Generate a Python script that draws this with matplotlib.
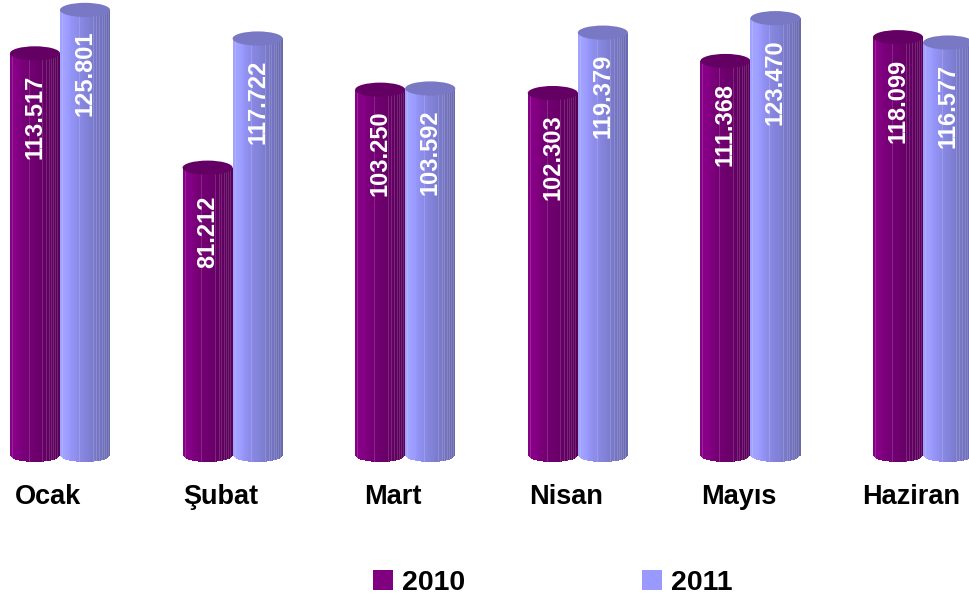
import numpy as np
import matplotlib
matplotlib.use("Agg")
import matplotlib.pyplot as plt
import matplotlib.transforms as mtransforms
from matplotlib.patches import Ellipse, Patch
from matplotlib.colors import to_rgb

plt.rcParams['font.family'] = ['Liberation Sans', 'DejaVu Sans']

# data
months = ['Ocak', 'Şubat', 'Mart', 'Nisan', 'Mayıs', 'Haziran']
v2010 = [113.517, 81.212, 103.250, 102.303, 111.368, 118.099]
v2011 = [125.801, 117.722, 103.592, 119.379, 123.470, 116.577]
series = ['2010', '2011']

c2010, top2010 = '#800080', '#640064'
c2011, top2011 = '#9999FF', '#7878c4'

fig = plt.figure(figsize=(9.7, 6.03), dpi=100)
ax = fig.add_axes([0, 133 / 603, 1, 470 / 603])
ax.set_xlim(-0.3476, 5.272)
ax.set_ylim(-4.24, 128.6)
ax.axis('off')

W = 0.29      # bar width, group units
B = 2.0       # half height of the end ellipses, value units


def cylinder(xc, h, base, top, z):
    n = 48
    a = W / 2
    edges = np.linspace(xc - a, xc + a, n + 1)
    mids = (edges[:-1] + edges[1:]) / 2
    t = (mids - xc) / a
    # lit from the left, darker towards the right edge
    light = 0.86 - 0.18 * t + 0.05 * np.exp(-((t + 0.75) / 0.2) ** 2)
    cols = [tuple(c) for c in np.clip(np.outer(light, to_rgb(base)), 0, 1)]
    low = -B * np.sqrt(np.clip(1 - t ** 2, 0, 1))
    ax.bar(mids, h - low, width=W / n * 1.05, bottom=low, color=cols,
           linewidth=0, zorder=z)
    # thin light striations on the shaded side
    for k in (-0.92, -0.25, 0.3, 0.45, 0.55, 0.66, 0.74, 0.82, 0.9):
        xm = xc + k * a
        ax.plot([xm, xm], [-B * np.sqrt(1 - k ** 2), h], color='white',
                lw=0.5, alpha=0.22, zorder=z + 0.05)
    ax.add_patch(Ellipse((xc, h), W, 2 * B, facecolor=top, lw=0, zorder=z + 0.1))
    ax.text(xc, h - 18, f'{h:.3f}', rotation=90, ha='center', va='center',
            color='white', fontsize=17, fontweight='bold', zorder=z + 0.2)


x = np.arange(len(months))
for i in x:
    cylinder(i - W / 2, v2010[i], c2010, top2010, 2 + i)
    cylinder(i + W / 2, v2011[i], c2011, top2011, 2.5 + i)

tr = mtransforms.blended_transform_factory(ax.transData, fig.transFigure)
for i, m in zip(x, months):
    ax.text(i - 0.07, 106 / 603, m, transform=tr, ha='center', va='center',
            fontsize=19.5, fontweight='bold', color='black')

handles = [Patch(facecolor=c2010, lw=0), Patch(facecolor=c2011, lw=0)]
fig.legend(handles, series, loc='center', bbox_to_anchor=(0.5696, 20 / 603),
           ncol=2, frameon=False, prop={'size': 20.5, 'weight': 'bold'},
           handlelength=0.72, handleheight=0.72, handletextpad=0.3,
           columnspacing=6.2)

fig.savefig('out.png', dpi=100)
